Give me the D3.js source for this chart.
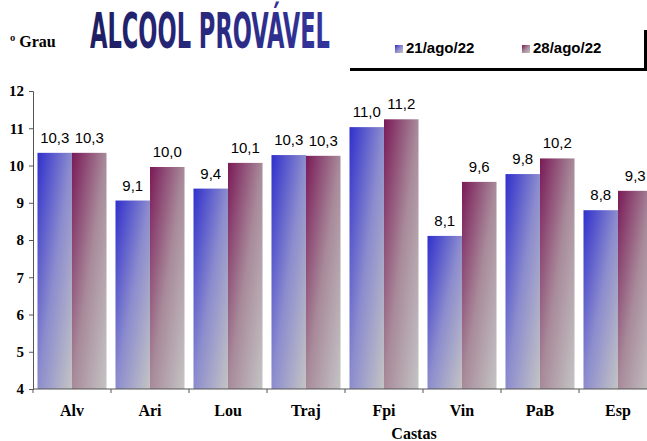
<!DOCTYPE html>
<html>
<head>
<meta charset="utf-8">
<script src="https://cdn.jsdelivr.net/npm/d3@7"></script>
<style>
  body { margin: 0; background: #fff; }
  svg { display: block; }
</style>
</head>
<body>
<svg id="chart"></svg>
<script>
let castas = ["Alv", "Ari", "Lou", "Traj", "Fpi", "Vin", "PaB", "Esp"]
let series = ["21/ago/22", "28/ago/22"]
let valores21 = [10.34, 9.06, 9.38, 10.28, 11.03, 8.11, 9.77, 8.80]
let valores28 = [10.34, 9.96, 10.07, 10.26, 11.24, 9.56, 10.19, 9.32]
let yTicks = [4, 5, 6, 7, 8, 9, 10, 11, 12]

let width = 647
let height = 441
let svg = d3.select("#chart")
svg.attr("width", width)
   .attr("height", height)

let defs = svg.append("defs")
let gradColors = [["#3030cc", "#8c8cce", "#c4c4c4"], ["#7a1a58", "#a88a9a", "#c4c4c4"]]
gradColors.forEach((c, i) => {
    let g = defs.append("linearGradient")
                .attr("id", "grad" + i)
                .attr("x1", 0).attr("y1", 0)
                .attr("x2", 1).attr("y2", 1)
    g.append("stop").attr("offset", "0%").attr("stop-color", c[0])
    g.append("stop").attr("offset", "50%").attr("stop-color", c[1])
    g.append("stop").attr("offset", "100%").attr("stop-color", c[2])
})
let titleGrad = defs.append("linearGradient").attr("id", "titleGrad")
titleGrad.append("stop").attr("offset", "0%").attr("stop-color", "#1e1e62")
titleGrad.append("stop").attr("offset", "100%").attr("stop-color", "#34349c")

let X = d3.scaleBand()
          .domain(castas)
          .range([33, 657])
let X1 = d3.scaleBand()
           .domain(series)
           .range([0, X.bandwidth()])
           .paddingOuter(0.13)
let Y = d3.scaleLinear()
          .domain([4, 12])
          .range([389, 91])

let data = castas.map((c, i) => {
    return [c, [valores21[i], valores28[i]]]
})

// Bars
let groups = svg.selectAll("g.grupo")
                .data(data)
                .enter()
                .append("g")
                .attr("class", "grupo")
                .attr("transform", (d) => "translate(" + X(d[0]) + ",0)")

groups.selectAll("rect")
      .data((d) => d[1])
      .enter()
      .append("rect")
      .attr("x", (d, i) => X1(series[i]))
      .attr("y", (d) => Y(d))
      .attr("width", X1.bandwidth())
      .attr("height", (d) => Y(4) - Y(d))
      .attr("fill", (d, i) => "url(#grad" + i + ")")

let fmt = (v) => d3.format(".1f")(v).replace(".", ",")
groups.selectAll("text")
      .data((d) => d[1])
      .enter()
      .append("text")
      .attr("x", (d, i) => X1(series[i]) + X1.bandwidth() / 2)
      .attr("y", (d) => Y(d) - 10)
      .attr("text-anchor", "middle")
      .style("font-family", "Liberation Sans, Arial, sans-serif")
      .style("font-size", "15px")
      .attr("fill", "#000")
      .text((d) => fmt(d))

// Y axis
let yaxis = d3.axisLeft(Y)
              .tickValues(yTicks)
              .tickSize(4)
              .tickFormat(d3.format("d"))
let yg = svg.append("g")
            .attr("transform", "translate(33,0)")
            .call(yaxis)
yg.select(".domain").attr("stroke", "#555")
yg.selectAll(".tick line").attr("stroke", "#555")
yg.selectAll(".tick text")
  .attr("x", -9)
  .style("font-family", "'Liberation Serif', 'Times New Roman', serif")
  .style("font-weight", "bold")
  .style("font-size", "15px")
  .attr("fill", "#000")

// X axis
let xg = svg.append("g")
            .attr("transform", "translate(0,389)")
xg.append("line")
  .attr("x1", 33).attr("x2", 657)
  .attr("stroke", "#555")
xg.selectAll("line.tk")
  .data(castas)
  .enter()
  .append("line")
  .attr("class", "tk")
  .attr("x1", (d) => X(d))
  .attr("x2", (d) => X(d))
  .attr("y1", 0).attr("y2", 4)
  .attr("stroke", "#555")
xg.selectAll("text")
  .data(castas)
  .enter()
  .append("text")
  .attr("x", (d) => X(d) + X.bandwidth() / 2)
  .attr("y", 27)
  .attr("text-anchor", "middle")
  .style("font-family", "'Liberation Serif', 'Times New Roman', serif")
  .style("font-weight", "bold")
  .style("font-size", "16px")
  .text((d) => d)

svg.append("text")
   .attr("x", 414)
   .attr("y", 439)
   .attr("text-anchor", "middle")
   .style("font-family", "'Liberation Serif', 'Times New Roman', serif")
   .style("font-weight", "bold")
   .style("font-size", "16px")
   .text("Castas")

// Title and unit
svg.append("text")
   .attr("x", 10)
   .attr("y", 47)
   .style("font-family", "'Liberation Serif', 'Times New Roman', serif")
   .style("font-weight", "bold")
   .style("font-size", "16px")
   .text("º Grau")

let title = svg.append("text")
               .style("font-family", "'DejaVu Sans Condensed', 'DejaVu Sans', sans-serif")
               .style("font-weight", "bold")
               .style("font-size", "49px")
               .attr("fill", "url(#titleGrad)")
               .text("ALCOOL PROVÁVEL")
let titleW = title.node().getComputedTextLength()
title.attr("transform", "translate(90,48) scale(" + (240 / titleW) + ",1)")

// Legend
let legendX = [395, 522]
let legend = svg.selectAll("g.legend")
                .data(series)
                .enter()
                .append("g")
                .attr("class", "legend")
                .attr("transform", (d, i) => "translate(" + legendX[i] + ",0)")
legend.append("rect")
      .attr("x", 0).attr("y", 45)
      .attr("width", 8).attr("height", 8)
      .attr("fill", (d, i) => "url(#grad" + i + ")")
legend.append("text")
      .attr("x", 11)
      .attr("y", 53)
      .style("font-family", "Liberation Sans, Arial, sans-serif")
      .style("font-weight", "bold")
      .style("font-size", "15px")
      .text((d) => d)

svg.append("path")
   .attr("d", "M350,69.5 H645.5 V30")
   .attr("fill", "none")
   .attr("stroke", "#000")
   .attr("stroke-width", 3)
</script>
</body>
</html>
